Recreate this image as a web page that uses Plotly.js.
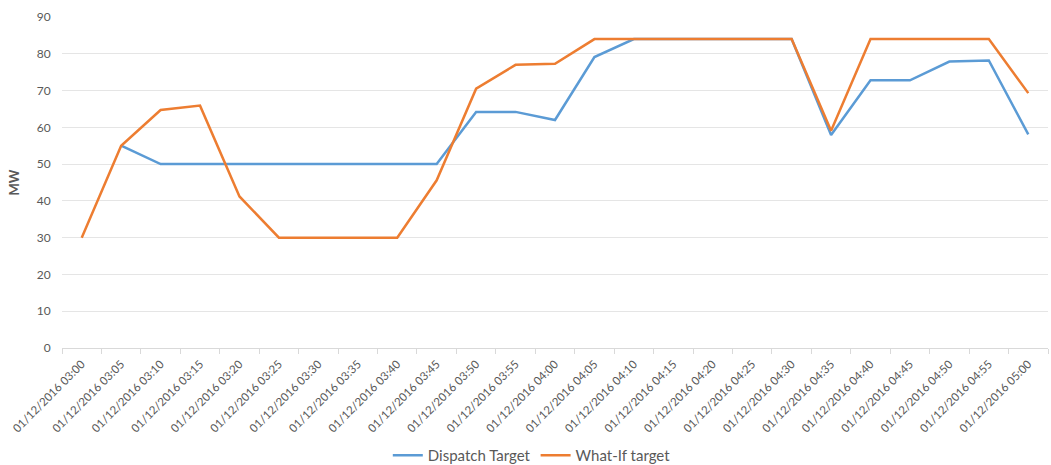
<!DOCTYPE html>
<html>
<head>
<meta charset="utf-8">
<script src="https://cdn.plot.ly/plotly-3.0.1.min.js"></script>
<style>html,body{margin:0;padding:0;background:#fff}#chart{width:1051px;height:465px}</style>
</head>
<body>
<div id="chart"></div>
<script>
const categories = ["01/12/2016 03:00","01/12/2016 03:05","01/12/2016 03:10","01/12/2016 03:15","01/12/2016 03:20","01/12/2016 03:25","01/12/2016 03:30","01/12/2016 03:35","01/12/2016 03:40","01/12/2016 03:45","01/12/2016 03:50","01/12/2016 03:55","01/12/2016 04:00","01/12/2016 04:05","01/12/2016 04:10","01/12/2016 04:15","01/12/2016 04:20","01/12/2016 04:25","01/12/2016 04:30","01/12/2016 04:35","01/12/2016 04:40","01/12/2016 04:45","01/12/2016 04:50","01/12/2016 04:55","01/12/2016 05:00"];
const dispatchTarget = [null,55,50,50,50,50,50,50,50,50,64.2,64.2,62,79.1,84,84,84,84,84,57.9,72.8,72.8,77.9,78.2,58.1];
const whatIfTarget = [30,55,64.7,65.9,41.2,30,30,30,30,45.6,70.5,77,77.3,84,84,84,84,84,84,59.1,84,84,84,84,69.3];
const yTicks = [0,10,20,30,40,50,60,70,80,90];

const font = "Lato, 'Open Sans', sans-serif";
const traces = [
  {x: categories, y: dispatchTarget, name: "Dispatch Target", type: "scatter", mode: "lines",
   line: {color: "#5B9BD5", width: 2.5}, connectgaps: false},
  {x: categories, y: whatIfTarget, name: "What-If target", type: "scatter", mode: "lines",
   line: {color: "#ED7D31", width: 2.5}}
];
const layout = {
  width: 1051, height: 465,
  margin: {l: 62, r: 3, t: 17, b: 117, autoexpand: false},
  paper_bgcolor: "#fff", plot_bgcolor: "#fff",
  font: {family: font, color: "#595959", size: 12},
  showlegend: true,
  legend: {orientation: "h", xref: "container", yref: "container", x: 0.506, xanchor: "center",
           y: 0.0204, yanchor: "middle", itemwidth: 30,
           font: {size: 15, color: "#595959", family: font}, traceorder: "normal"},
  xaxis: {type: "category", range: [-0.5, 24.5], tickangle: -45, showgrid: false, automargin: false,
          ticks: "outside", ticklen: 5, tickcolor: "#d9d9d9", tickson: "boundaries", ticklabelstandoff: 4,
          showline: true, linecolor: "#d9d9d9", linewidth: 1,
          tickfont: {size: 11.5, color: "#595959", family: font}, zeroline: false},
  yaxis: {range: [0, 90], tickvals: yTicks, ticktext: yTicks.map(String), showgrid: true, automargin: false,
          gridcolor: "#e5e5e5", gridwidth: 1, zeroline: false, showline: false,
          tickfont: {size: 12, color: "#595959", family: font}, ticklen: 8, tickcolor: "#fff", ticks: "outside",
          title: {text: "<b>MW</b>", font: {size: 13, color: "#595959", family: font}, standoff: 14}}
};
Plotly.newPlot("chart", traces, layout, {displayModeBar: false, staticPlot: true});
</script>
</body>
</html>
